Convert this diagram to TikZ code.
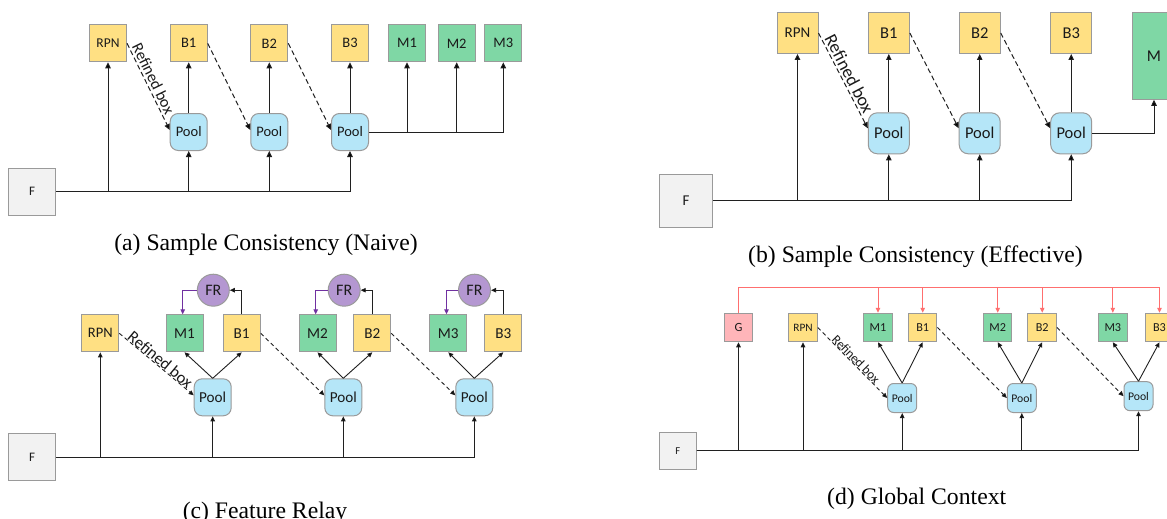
\documentclass[tikz,border=0pt]{standalone}
\usepackage{fontspec}
\setmainfont{Liberation Serif}
\newfontfamily\diagfont{Carlito}
\usetikzlibrary{arrows.meta,calc}
\definecolor{ybox}{HTML}{FFE083}
\definecolor{gbox}{HTML}{7FD7A5}
\definecolor{pbox}{HTML}{B5E6F8}
\definecolor{fbox}{HTML}{F2F2F2}
\definecolor{frc}{HTML}{B497D1}
\definecolor{bord}{HTML}{9A9A9A}
\definecolor{redl}{HTML}{FF6F6F}
\definecolor{gfill}{HTML}{FFB5B9}
\definecolor{purl}{HTML}{7030A0}
\definecolor{txt}{HTML}{1A1A1A}
\definecolor{lin}{HTML}{202020}
\newcommand\myfs[1]{\diagfont\fontsize{#1}{#1}\selectfont}
\begin{document}
\begin{tikzpicture}[x=1pt,y=-1pt,
  bx/.style={draw=bord, line width=1pt, inner sep=0pt, minimum size=#1, text=txt},
  bx/.default=37pt,
  yel/.style={bx=#1, fill=ybox}, yel/.default=37pt,
  grn/.style={bx=#1, fill=gbox}, grn/.default=37pt,
  pool/.style={bx=#1, fill=pbox, rounded corners=8pt}, pool/.default=37pt,
  fin/.style={bx=#1, fill=fbox}, fin/.default=47pt,
  frn/.style={circle, draw=bord, line width=1pt, fill=frc, inner sep=0pt, minimum size=32pt, text=txt},
  conn/.style={draw=lin, line width=1pt, -{Triangle[length=6pt,width=5.5pt,fill=black]}},
  conns/.style={draw=lin, line width=0.9pt, -{Triangle[length=5pt,width=4.5pt,fill=black]}},
  dsh/.style={conn, dash pattern=on 5pt off 3pt},
  dshs/.style={conns, dash pattern=on 4pt off 3pt},
  redc/.style={draw=redl, line width=1pt, -{Triangle[length=5pt,width=4.5pt,fill=redl]}},
  purc/.style={draw=purl, line width=1pt, -{Triangle[length=5pt,width=4.5pt,fill=purl]}},
  lbl/.style={midway, sloped, above, inner sep=2pt, text=txt},
  captxt/.style={font=\rmfamily\fontsize{23.7}{26}\selectfont, anchor=base, inner sep=0pt}]
\useasboundingbox (0,0) rectangle (1167,519);
\fill[white] (0,0) rectangle (1167,519);

% ---------------- (a) ----------------
\begin{scope}[every node/.append style={font=\myfs{14.5}}]
\node[fin, font=\myfs{13}] (Fa) at (32,191.7) {F};
\node[yel, font=\myfs{13.5}] (RPNa) at (108,43.3) {RPN};
\node[yel] (B1a) at (188.7,43.3) {B1};
\node[yel] (B2a) at (269.3,43.3) {B2};
\node[yel] (B3a) at (350,43.3) {B3};
\node[grn] (M1a) at (407,43.3) {M1};
\node[grn] (M2a) at (456.7,43.3) {M2};
\node[grn] (M3a) at (503.3,43.3) {M3};
\node[pool] (P1a) at (188.7,132) {Pool};
\node[pool] (P2a) at (269.3,132) {Pool};
\node[pool] (P3a) at (350,132) {Pool};
\end{scope}
\draw[conn] (Fa.east) -| (RPNa.south);
\draw[conn] (Fa.east) -| (P1a.south);
\draw[conn] (Fa.east) -| (P2a.south);
\draw[conn] (Fa.east) -| (P3a.south);
\draw[conn] (P1a.north) -- (B1a.south);
\draw[conn] (P2a.north) -- (B2a.south);
\draw[conn] (P3a.north) -- (B3a.south);
\draw[conn] (P3a.east) -| (M1a.south);
\draw[conn] (P3a.east) -| (M2a.south);
\draw[conn] (P3a.east) -| (M3a.south);
\draw[dsh] (RPNa.east) -- ([yshift=2pt]P1a.west) node[lbl, pos=0.45, font=\myfs{16}] {Refined box};
\draw[dsh] (B1a.east) -- ([yshift=2pt]P2a.west);
\draw[dsh] (B2a.east) -- ([yshift=2pt]P3a.west);
\node[captxt] (capa) at (266,250.7) {(a) Sample Consistency (Naive)};

% ---------------- (b) ----------------
\begin{scope}[every node/.append style={font=\myfs{16.5}}]
\node[fin=53pt, font=\myfs{15}] (Fb) at (686,200.7) {F};
\node[yel=41pt, font=\myfs{15}] (RPNb) at (797.5,33) {RPN};
\node[yel=41pt] (B1b) at (888.8,33) {B1};
\node[yel=41pt] (B2b) at (979.7,33) {B2};
\node[yel=41pt] (B3b) at (1071.2,33) {B3};
\node[grn, minimum width=42.6pt, minimum height=86.6pt] (Mb) at (1154,56) {M};
\node[pool=41pt, rounded corners=9pt] (P1b) at (888.8,133.3) {Pool};
\node[pool=41pt, rounded corners=9pt] (P2b) at (979.7,133.3) {Pool};
\node[pool=41pt, rounded corners=9pt] (P3b) at (1071.2,133.3) {Pool};
\end{scope}
\draw[conn] (Fb.east) -| (RPNb.south);
\draw[conn] (Fb.east) -| (P1b.south);
\draw[conn] (Fb.east) -| (P2b.south);
\draw[conn] (Fb.east) -| (P3b.south);
\draw[conn] (P1b.north) -- (B1b.south);
\draw[conn] (P2b.north) -- (B2b.south);
\draw[conn] (P3b.north) -- (B3b.south);
\draw[conn] (P3b.east) -| (Mb.south);
\draw[dsh] (RPNb.east) -- ([yshift=5pt]P1b.west) node[lbl, pos=0.47, font=\myfs{18}] {Refined box};
\draw[dsh] (B1b.east) -- ([yshift=5pt]P2b.west);
\draw[dsh] (B2b.east) -- ([yshift=5pt]P3b.west);
\node[captxt] (capb) at (915.5,262) {(b) Sample Consistency (Effective)};

% ---------------- (c) ----------------
\begin{scope}[every node/.append style={font=\myfs{15.2}}]
\node[fin, font=\myfs{13}] (Fc) at (32,457.3) {F};
\node[yel, font=\myfs{14.5}] (RPNc) at (100.3,333.3) {RPN};
\node[grn] (M1c) at (184.5,333.3) {M1};
\node[yel] (B1c) at (241.7,333.3) {B1};
\node[grn] (M2c) at (317.5,333.3) {M2};
\node[yel] (B2c) at (372.3,333.3) {B2};
\node[grn] (M3c) at (448.3,333.3) {M3};
\node[yel] (B3c) at (503.3,333.3) {B3};
\node[frn, font=\myfs{16}] (FR1) at (213.3,290.2) {FR};
\node[frn, font=\myfs{16}] (FR2) at (344.2,290.2) {FR};
\node[frn, font=\myfs{16}] (FR3) at (474.5,290.2) {FR};
\node[pool] (P1c) at (212.7,397.3) {Pool};
\node[pool] (P2c) at (343.3,397.3) {Pool};
\node[pool] (P3c) at (474.3,397.3) {Pool};
\end{scope}
\draw[conns] (Fc.east) -| (RPNc.south);
\draw[conns] (Fc.east) -| (P1c.south);
\draw[conns] (Fc.east) -| (P2c.south);
\draw[conns] (Fc.east) -| (P3c.south);
\foreach \i in {1,2,3}{
  \draw[conns] (P\i c.north) -- (M\i c.south);
  \draw[conns] (P\i c.north) -- (B\i c.south);
  \draw[conns] (B\i c.north) |- (FR\i.east);
  \draw[purc] (FR\i.west) -| ([xshift=-1.8pt]M\i c.north);
}
\draw[dshs] (RPNc.east) -- ([yshift=2pt]P1c.west) node[lbl, pos=0.5, inner sep=0pt, font=\myfs{16.5}] {Refined box};
\draw[dshs] (B1c.east) -- ([yshift=2pt]P2c.west);
\draw[dshs] (B2c.east) -- ([yshift=2pt]P3c.west);
\node[captxt] (capc) at (265,518) {(c) Feature Relay};

% ---------------- (d) ----------------
\begin{scope}[every node/.append style={font=\myfs{12.2}}]
\node[fin=36.7pt, font=\myfs{10.5}] (Fd) at (677.7,450.7) {F};
\node[bx=28.5pt, fill=gfill, font=\myfs{12.5}] (Gd) at (738.5,327.5) {G};
\node[yel=28.5pt, font=\myfs{11.3}] (RPNd) at (803,327.5) {RPN};
\node[grn=28.5pt] (M1d) at (878,327.5) {M1};
\node[yel=28.5pt] (B1d) at (922.7,327.5) {B1};
\node[grn=28.5pt] (M2d) at (997.7,327.5) {M2};
\node[yel=28.5pt] (B2d) at (1042.2,327.5) {B2};
\node[grn=28.5pt] (M3d) at (1112.8,327.5) {M3};
\node[yel=28.5pt] (B3d) at (1159.5,327.5) {B3};
\node[pool=29pt, rounded corners=6pt, font=\myfs{11.7}] (P1d) at (902.2,398) {Pool};
\node[pool=29pt, rounded corners=6pt, font=\myfs{11.7}] (P2d) at (1021.8,398) {Pool};
\node[pool=29pt, rounded corners=6pt, font=\myfs{11.7}] (P3d) at (1138.5,396.2) {Pool};
\end{scope}
\coordinate (gtop) at (738.5,287.3);
\draw[conns] (Fd.east) -| (Gd.south);
\draw[conns] (Fd.east) -| (RPNd.south);
\draw[conns] (Fd.east) -| (P1d.south);
\draw[conns] (Fd.east) -| (P2d.south);
\draw[conns] (Fd.east) -| (P3d.south);
\foreach \i in {1,2,3}{
  \draw[conns] (P\i d.north) -- (M\i d.south);
  \draw[conns] (P\i d.north) -- (B\i d.south);
  \draw[redc] (Gd.north) -- (gtop) -| (M\i d.north);
  \draw[redc] (Gd.north) -- (gtop) -| (B\i d.north);
}
\draw[dshs] (RPNd.east) -- (P1d.west) node[lbl, pos=0.5, inner sep=0pt, font=\myfs{13}] {Refined box};
\draw[dshs] (B1d.east) -- (P2d.west);
\draw[dshs] (B2d.east) -- (P3d.west);
\node[captxt] (capd) at (916.7,504) {(d) Global Context};
\end{tikzpicture}
\end{document}
